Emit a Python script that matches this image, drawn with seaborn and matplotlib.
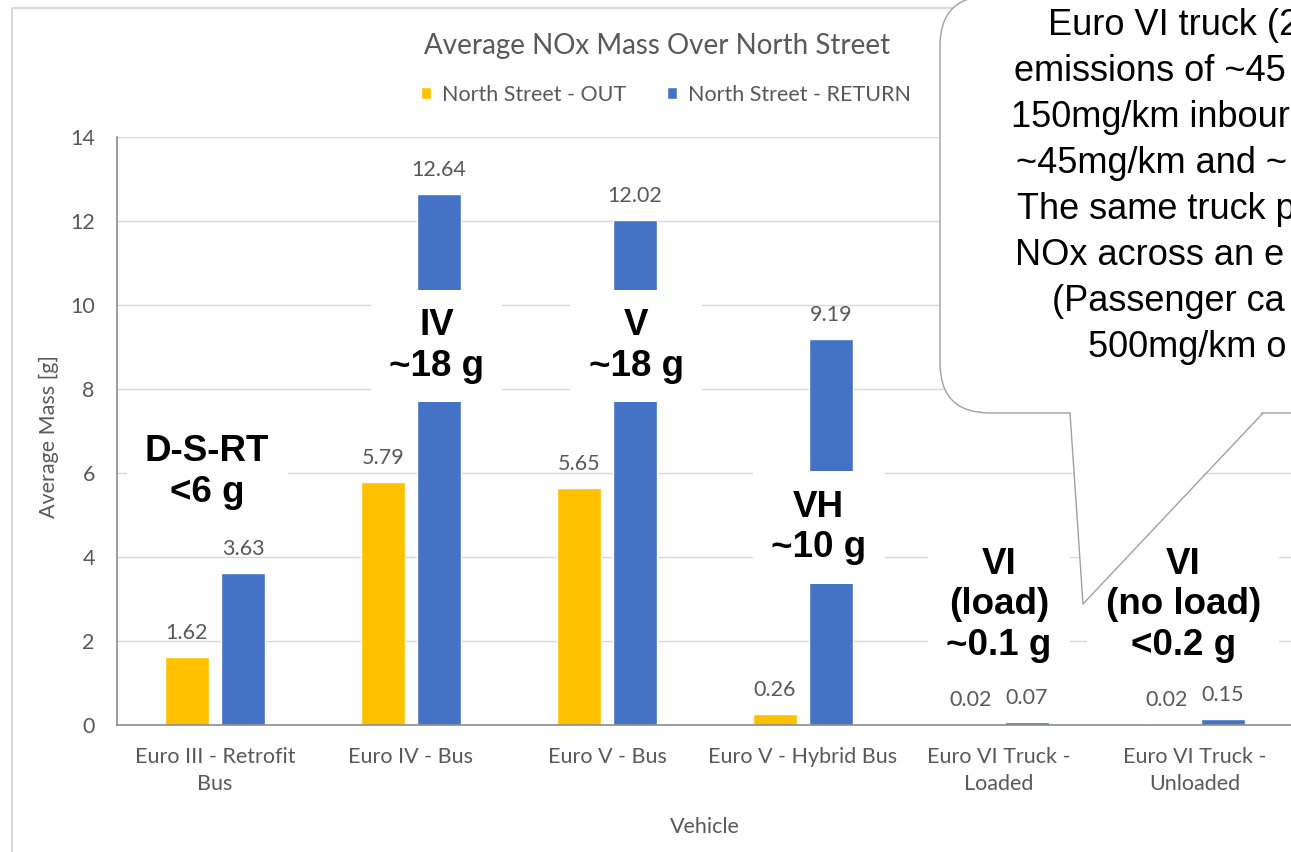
import matplotlib
matplotlib.use("Agg")
import matplotlib.pyplot as plt
import seaborn as sns
import pandas as pd
from matplotlib.patches import FancyBboxPatch, Polygon, Rectangle

# chart data
vehicles = ["Euro III - Retrofit\nBus", "Euro IV - Bus", "Euro V - Bus",
            "Euro V - Hybrid Bus", "Euro VI Truck -\nLoaded", "Euro VI Truck -\nUnloaded"]
out_mass = [1.62, 5.79, 5.65, 0.26, 0.02, 0.02]
return_mass = [3.63, 12.64, 12.02, 9.19, 0.07, 0.15]
series = ["North Street - OUT", "North Street - RETURN"]
series_colors = ["#FFC000", "#4472C4"]

# bold overlay notes (category position, y value, text)
notes_x = [-0.04, 1.13, 2.15, 3.08, 4.0, 4.94]
notes_y = [6.02, 9.02, 9.02, 4.70, 2.86, 2.86]
notes_text = ["D-S-RT\n<6 g", "IV\n~18 g", "V\n~18 g", "VH\n~10 g",
              "VI\n(load)\n~0.1 g", "VI\n(no load)\n<0.2 g"]

# speech bubble text (cut by the right edge of the picture)
bubble_lines = ["Euro VI truck (2", "emissions of ~45", "150mg/km inbour",
                "~45mg/km and ~", "The same truck p", "NOx across an e",
                "(Passenger ca", "500mg/km o"]
bubble_x = [1048, 1014, 1011, 1016, 1017, 1015, 1052, 1088]

W, H = 1291, 852
GREY = "#595959"
FS = 15.5

df = pd.DataFrame({
    "Vehicle": vehicles * 2,
    "Series": [series[0]] * len(vehicles) + [series[1]] * len(vehicles),
    "Mass": out_mass + return_mass,
})

sns.set_style("white")
plt.rcParams["font.family"] = ["Lato", "DejaVu Sans"]

fig = plt.figure(figsize=(W / 100, H / 100), dpi=100)
fig.patch.set_facecolor("white")
ax = fig.add_axes([117 / W, 127 / H, 1176 / W, 588 / H])

sns.barplot(data=df, x="Vehicle", y="Mass", hue="Series",
            palette=dict(zip(series, series_colors)), saturation=1,
            width=0.572, gap=0.2, ax=ax)

ax.set_ylim(0, 14)
ax.set_xlim(-0.5, 5.5)
ax.set_yticks(range(0, 15, 2))
ax.yaxis.grid(True, color="#D9D9D9", lw=1)
ax.set_axisbelow(True)
for s in ["top", "right"]:
    ax.spines[s].set_visible(False)
for s in ["left", "bottom"]:
    ax.spines[s].set_color("#8C8C8C")
    ax.spines[s].set_linewidth(1.2)
ax.tick_params(axis="both", length=0, colors=GREY, labelsize=FS)
ax.tick_params(axis="x", pad=16)
ax.tick_params(axis="y", pad=16)
for lab in ax.get_xticklabels():
    lab.set_linespacing(1.45)

for cont in ax.containers:
    ax.bar_label(cont, fmt="%.2f", padding=10, color=GREY, fontsize=FS)

ax.set_xlabel("Vehicle", fontsize=FS, color=GREY)
ax.xaxis.set_label_coords(0.5, -0.157)
ax.set_ylabel("Average Mass [g]", fontsize=FS, color=GREY)
ax.yaxis.set_label_coords(-0.058, 0.49)
ax.yaxis.label.set_va("center")

sns.move_legend(ax, "center", bbox_to_anchor=(666 / W, 1 - 95 / H),
                bbox_transform=fig.transFigure, ncol=2, title=None,
                frameon=False, fontsize=FS, handlelength=0.48,
                handleheight=0.48, handletextpad=0.5, columnspacing=1.9,
                labelcolor=GREY)

fig.text(657 / W, 1 - 46 / H, "Average NOx Mass Over North Street",
         ha="center", va="center", fontsize=20, color=GREY)

for x, y, t in zip(notes_x, notes_y, notes_text):
    ax.text(x, y, t, ha="center", va="center", fontsize=26.5,
            fontweight="bold", family="Liberation Sans", color="black",
            linespacing=1.2, zorder=6,
            bbox=dict(boxstyle="square,pad=0.5", fc="white", ec="none"))

# overlay in pixel units for chart border and speech bubble
ov = fig.add_axes([0, 0, 1, 1], zorder=10)
ov.set_xlim(0, W)
ov.set_ylim(H, 0)
ov.axis("off")

ov.add_patch(Rectangle((12, 8), 1400, 900, fc="none", ec="#D9D9D9", lw=1.5))

ov.add_patch(FancyBboxPatch((940, -4), 800, 417,
                            boxstyle="round,pad=0,rounding_size=50",
                            fc="white", ec="#A0A0A0", lw=1))
ov.add_patch(Polygon([(1070, 411), (1083, 604), (1263, 411)], closed=True,
                     fc="white", ec="none"))
ov.plot([1070, 1083, 1263], [413, 604, 413], color="#A0A0A0", lw=1)

for i, (line, x) in enumerate(zip(bubble_lines, bubble_x)):
    ov.text(x, 35 + i * 46, line, ha="left", va="baseline", fontsize=26,
            family="Liberation Sans", color="black")

fig.savefig("out.png", dpi=100)
